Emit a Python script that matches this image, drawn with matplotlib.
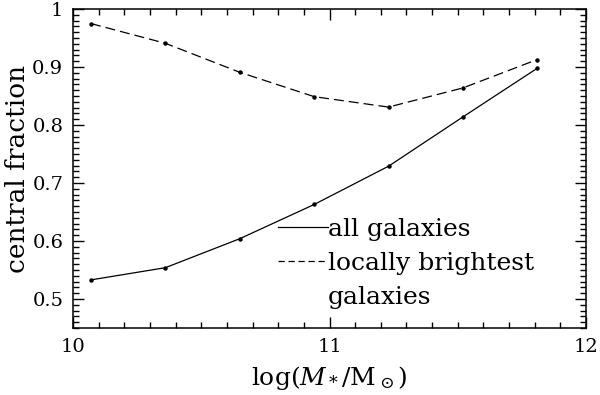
import numpy as np
import matplotlib
matplotlib.use("Agg")
import matplotlib.pyplot as plt
from matplotlib.lines import Line2D
from matplotlib.ticker import MultipleLocator

# Data
log_mass = [10.07, 10.36, 10.65, 10.94, 11.23, 11.52, 11.81]
frac_all = [0.533, 0.554, 0.604, 0.663, 0.729, 0.814, 0.898]
frac_brightest = [0.975, 0.941, 0.891, 0.849, 0.831, 0.864, 0.913]

legend_labels = ["all galaxies", "locally brightest", "galaxies"]

plt.rcParams["font.family"] = "DejaVu Serif"
plt.rcParams["mathtext.fontset"] = "dejavuserif"

fig = plt.figure(figsize=(6.0, 3.95), dpi=100)
ax = fig.add_axes([0.1217, 0.1696, 0.855, 0.8074])

ax.plot(log_mass, frac_all, color="black", lw=0.9, marker="o", ms=2.2)
ax.plot(log_mass, frac_brightest, color="black", lw=0.9, marker="o", ms=2.2,
        dashes=(8, 4))

ax.set_xlim(10, 12)
ax.set_ylim(0.45, 1.0)
ax.xaxis.set_major_locator(MultipleLocator(1))
ax.xaxis.set_minor_locator(MultipleLocator(0.1))
ax.yaxis.set_major_locator(MultipleLocator(0.1))
ax.yaxis.set_minor_locator(MultipleLocator(0.01))
ax.yaxis.set_major_formatter(plt.FuncFormatter(lambda v, _: "1" if abs(v - 1) < 1e-9 else f"{v:.1f}"))
ax.xaxis.set_major_formatter(plt.FuncFormatter(lambda v, _: f"{v:.0f}"))

ax.tick_params(which="both", direction="in", top=True, right=True,
               labelsize=14, width=1.0)
ax.tick_params(which="major", length=8, pad=7)
ax.tick_params(which="minor", length=4.5)
for s in ax.spines.values():
    s.set_linewidth(1.1)

ax.set_xlabel(r"$\log(M_*/{\rm M}_\odot)$", fontsize=18, labelpad=6)
ax.set_ylabel("central fraction", fontsize=19)
ax.yaxis.set_label_coords(-0.083, 0.5)

# legend: no markers, third row carries only text
handles = [
    Line2D([], [], color="black", lw=0.9),
    Line2D([], [], color="black", lw=0.9, dashes=(5, 3)),
    Line2D([], [], color="none", lw=0),
]
ax.legend(handles, legend_labels, loc="upper left", bbox_to_anchor=(0.40, 0.345),
          frameon=False, fontsize=18, handlelength=2.0, handletextpad=0.0,
          borderpad=0, borderaxespad=0, labelspacing=0.45)

fig.savefig("out.png", dpi=100)
